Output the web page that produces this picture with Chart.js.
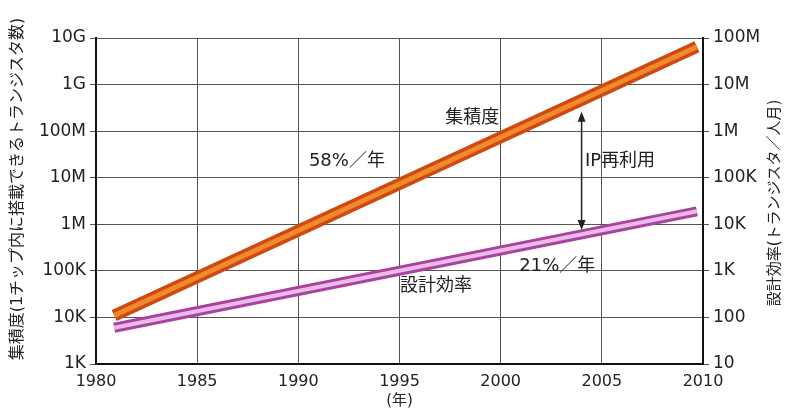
<!DOCTYPE html>
<html>
<head>
<meta charset="utf-8">
<script src="https://cdn.jsdelivr.net/npm/chart.js@4.4.1/dist/chart.umd.min.js"></script>
<style>
  html, body { margin: 0; padding: 0; background: #fff; }
  #wrap { width: 791px; height: 409px; }
</style>
</head>
<body>
<div id="wrap"><canvas id="chart"></canvas></div>
<script>
// years and values
var years = [1980.9, 2009.7];
var density = [1.1e4, 6.5e9];        // left axis, transistors per chip
var efficiency = [60, 1.9e4];        // right axis, transistors per man-month

var leftTicks = [1e3, 1e4, 1e5, 1e6, 1e7, 1e8, 1e9, 1e10];
var leftLabels = ["1K", "10K", "100K", "1M", "10M", "100M", "1G", "10G"];
var rightTicks = [10, 100, 1e3, 1e4, 1e5, 1e6, 1e7, 1e8];
var rightLabels = ["10", "100", "1K", "10K", "100K", "1M", "10M", "100M"];

var font = "'DejaVu Sans', 'Noto Sans CJK JP', sans-serif";

function pts(xs, ys) {
    var out = [];
    for (let i = 0; i < xs.length; i++) out.push({ x: xs[i], y: ys[i] });
    return out;
}

// text labels, arrow and axis titles
var extras = {
    id: "extras",
    afterDatasetsDraw: function(chart) {
        const ctx = chart.ctx;
        const x = chart.scales.x;
        const y = chart.scales.y;
        const a = chart.chartArea;
        ctx.save();
        ctx.fillStyle = "#222";
        ctx.textAlign = "center";
        ctx.textBaseline = "middle";
        ctx.font = "18px " + font;
        ctx.fillText("集積度", x.getPixelForValue(1998.6), y.getPixelForValue(1.9e8));
        ctx.fillText("58%／年", x.getPixelForValue(1992.4), y.getPixelForValue(2.3e7));
        ctx.fillText("IP再利用", x.getPixelForValue(2005.9), y.getPixelForValue(2.3e7));
        ctx.fillText("21%／年", x.getPixelForValue(2002.8), y.getPixelForValue(1.27e5));
        ctx.fillText("設計効率", x.getPixelForValue(1996.8), y.getPixelForValue(4.6e4));

        // double arrow
        const ax = x.getPixelForValue(2004);
        const y1 = y.getPixelForValue(2.6e8);
        const y2 = y.getPixelForValue(7.5e5);
        ctx.strokeStyle = "#222";
        ctx.lineWidth = 1.5;
        ctx.beginPath();
        ctx.moveTo(ax, y1 + 6);
        ctx.lineTo(ax, y2 - 6);
        ctx.stroke();
        ctx.beginPath();
        ctx.moveTo(ax, y1);
        ctx.lineTo(ax - 4, y1 + 10);
        ctx.lineTo(ax + 4, y1 + 10);
        ctx.closePath();
        ctx.moveTo(ax, y2);
        ctx.lineTo(ax - 4, y2 - 10);
        ctx.lineTo(ax + 4, y2 - 10);
        ctx.closePath();
        ctx.fill();

        // axis titles, both read bottom to top
        ctx.font = "16px " + font;
        ctx.save();
        ctx.translate(18, (a.top + a.bottom) / 2 - 12);
        ctx.rotate(-Math.PI / 2);
        ctx.fillText("集積度(1チップ内に搭載できるトランジスタ数)", 0, 0);
        ctx.restore();
        ctx.save();
        ctx.translate(775, 203);
        ctx.rotate(-Math.PI / 2);
        ctx.font = "15px " + font;
        ctx.fillText("設計効率(トランジスタ／人月)", 0, 0);
        ctx.restore();

        ctx.font = "15px " + font;
        ctx.fillText("(年)", x.getPixelForValue(1995), 401);
        ctx.restore();
    }
};

const ctx = document.getElementById("chart").getContext("2d");
const myChart = new Chart(ctx, {
    type: "line",
    data: {
        datasets: [{
            data: pts(years, density),
            yAxisID: "y",
            borderColor: "#cf4a12",
            borderWidth: 12,
            borderCapStyle: "butt",
            pointRadius: 0,
            order: 4,
        }, {
            data: pts(years, density),
            yAxisID: "y",
            borderColor: "#f08a2c",
            borderWidth: 5,
            borderCapStyle: "butt",
            pointRadius: 0,
            order: 3,
        }, {
            data: pts(years, efficiency),
            yAxisID: "y2",
            borderColor: "#a8449f",
            borderWidth: 10,
            borderCapStyle: "butt",
            pointRadius: 0,
            order: 2,
        }, {
            data: pts(years, efficiency),
            yAxisID: "y2",
            borderColor: "#ebbbe8",
            borderWidth: 4,
            borderCapStyle: "butt",
            pointRadius: 0,
            order: 1,
        }],
    },
    options: {
        responsive: true,
        maintainAspectRatio: false,
        animation: false,
        layout: { padding: { top: 38, left: 0, right: 0, bottom: 0 } },
        plugins: {
            legend: { display: false },
            tooltip: { enabled: false },
        },
        scales: {
            x: {
                type: "linear",
                min: 1980,
                max: 2010,
                ticks: {
                    stepSize: 5,
                    color: "#222",
                    font: { family: font, size: 16 },
                    padding: 8,
                    callback: function(v) { return String(v); },
                },
                grid: { color: "#555", lineWidth: 1, drawTicks: false },
                border: { color: "#111", width: 2 },
                afterFit: function(s) { s.height = 45; },
            },
            y: {
                type: "logarithmic",
                position: "left",
                min: 1e3,
                max: 1e10,
                afterBuildTicks: function(s) {
                    s.ticks = leftTicks.map(function(v) { return { value: v }; });
                },
                ticks: {
                    color: "#222",
                    font: { family: font, size: 17 },
                    padding: 4,
                    callback: function(v) {
                        const i = leftTicks.indexOf(v);
                        return i >= 0 ? leftLabels[i] : "";
                    },
                },
                grid: { color: "#555", lineWidth: 1, tickLength: 6 },
                border: { color: "#111", width: 2 },
                afterFit: function(s) { s.width = 96; },
            },
            y2: {
                type: "logarithmic",
                position: "right",
                min: 10,
                max: 1e8,
                afterBuildTicks: function(s) {
                    s.ticks = rightTicks.map(function(v) { return { value: v }; });
                },
                ticks: {
                    color: "#222",
                    font: { family: font, size: 17 },
                    padding: 4,
                    callback: function(v) {
                        const i = rightTicks.indexOf(v);
                        return i >= 0 ? rightLabels[i] : "";
                    },
                },
                grid: { drawOnChartArea: false, color: "#555", tickLength: 6 },
                border: { color: "#111", width: 2 },
                afterFit: function(s) { s.width = 88; },
            },
        },
    },
    plugins: [extras],
});
</script>
</body>
</html>
